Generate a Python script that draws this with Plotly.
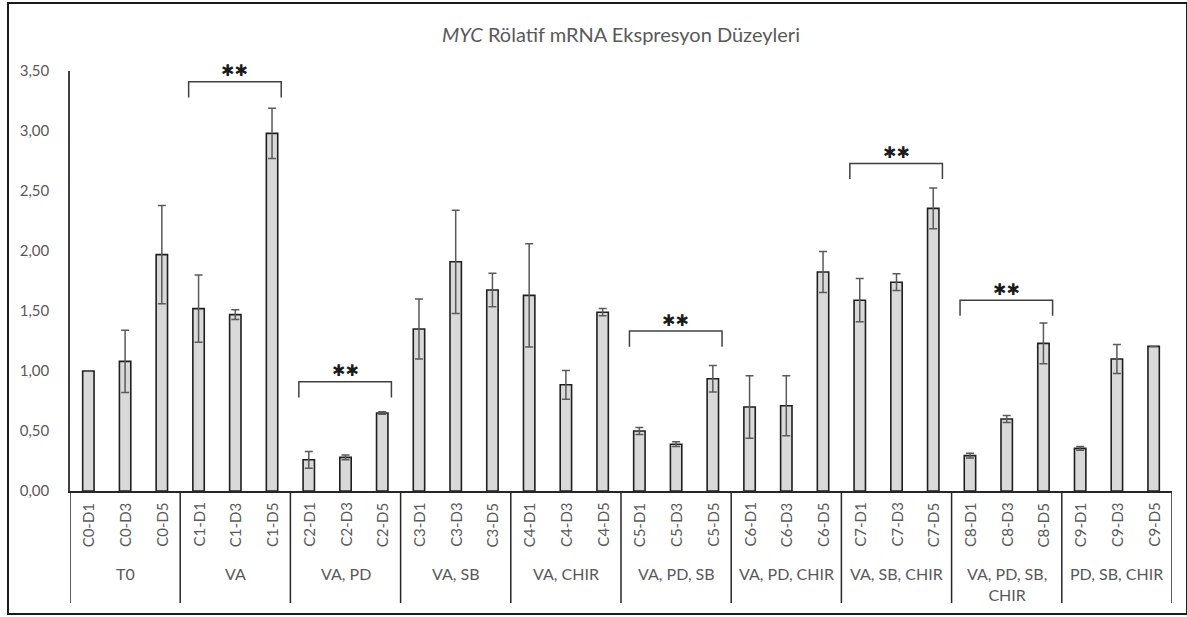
import plotly.graph_objects as go

# Sample codes, treatment groups and measured means / error values
doses = ["D1", "D3", "D5"]
conditions = ["C0", "C1", "C2", "C3", "C4", "C5", "C6", "C7", "C8", "C9"]
groups = ["T0", "VA", "VA, PD", "VA, SB", "VA, CHIR", "VA, PD, SB",
          "VA, PD, CHIR", "VA, SB, CHIR", "VA, PD, SB,<br>CHIR", "PD, SB, CHIR"]
categories = [f"{c}-{d}" for c in conditions for d in doses]

means = [1.00, 1.08, 1.97,
         1.52, 1.47, 2.98,
         0.26, 0.28, 0.65,
         1.35, 1.91, 1.675,
         1.63, 0.885, 1.49,
         0.50, 0.39, 0.935,
         0.70, 0.71, 1.825,
         1.59, 1.74, 2.355,
         0.295, 0.60, 1.23,
         0.355, 1.10, 1.205]
errors = [0.0, 0.26, 0.41,
          0.28, 0.04, 0.21,
          0.07, 0.02, 0.01,
          0.25, 0.43, 0.14,
          0.43, 0.12, 0.03,
          0.03, 0.02, 0.11,
          0.26, 0.25, 0.17,
          0.18, 0.07, 0.17,
          0.02, 0.03, 0.17,
          0.015, 0.12, 0.0]

# Significance brackets: group index and bracket level
sig_groups = [1, 2, 5, 7, 8]
sig_levels = [3.41, 0.91, 1.333, 2.73, 1.59]
sig_label = "✱✱"

W, H = 1187, 617
ML, MR, MT, MB = 70, 15, 71, 126
PW, PH = W - ML - MR, H - MT - MB

TEXT = "#595959"
FONT = "Lato"

x = list(range(len(categories)))

fig = go.Figure()
fig.add_trace(go.Bar(
    x=x, y=means, width=0.31,
    marker=dict(color="#D9D9D9", line=dict(color="#1f1f1f", width=1.6)),
    error_y=dict(type="data", array=errors, symmetric=True,
                 color="#5a5a5a", thickness=1.5, width=4),
    showlegend=False, hoverinfo="skip",
))

drop = 0.13
for g, lvl in zip(sig_groups, sig_levels):
    x0 = 3 * g - 0.27
    x1 = 3 * g + 2 + 0.25
    fig.add_trace(go.Scatter(
        x=[x0, x0, x1, x1], y=[lvl - drop, lvl, lvl, lvl - drop],
        mode="lines", line=dict(color="#404040", width=1.5),
        showlegend=False, hoverinfo="skip",
    ))
    fig.add_annotation(
        x=(x0 + x1) / 2, y=lvl, xref="x", yref="y",
        text=sig_label, showarrow=False, yanchor="middle", yshift=11,
        font=dict(family="DejaVu Sans", size=16, color="#1a1a1a"),
    )

def py(pix):
    """Pixel row -> paper y coordinate."""
    return (MT + PH - pix) / PH

def px(pix):
    return (pix - ML) / PW

shapes = []
# Group separators on the multi-level category axis
for k in range(len(groups) + 1):
    shapes.append(dict(type="line", xref="x", yref="paper",
                       x0=3 * k - 0.5, x1=3 * k - 0.5, y0=0, y1=py(603),
                       line=dict(color="#262626", width=1.5)))
# Outer chart border
shapes.append(dict(type="rect", xref="paper", yref="paper",
                   x0=px(8), x1=px(1187), y0=py(614), y1=py(3),
                   line=dict(color="#1a1a1a", width=2), layer="above"))

annotations = []
for i, c in enumerate(categories):
    annotations.append(dict(x=i, y=0, xref="x", yref="paper", text=c,
                            textangle=-90, showarrow=False,
                            yanchor="middle", yshift=-34,
                            font=dict(family=FONT, size=15, color=TEXT)))
for g, name in enumerate(groups):
    annotations.append(dict(x=3 * g + 1, y=0, xref="x", yref="paper", text=name,
                            showarrow=False, yanchor="top", yshift=-71,
                            font=dict(family=FONT, size=16, color=TEXT)))

for a in annotations:
    fig.add_annotation(**a)

fig.update_layout(
    width=W, height=H,
    margin=dict(l=ML, r=MR, t=MT, b=MB),
    paper_bgcolor="white", plot_bgcolor="white",
    separators=",.",
    shapes=shapes,
    title=dict(text="<i>MYC</i> Rölatif mRNA Ekspresyon Düzeyleri",
               x=0.5, xref="paper", y=1 - 35 / H, yanchor="middle",
               font=dict(family=FONT, size=20, color=TEXT)),
    xaxis=dict(range=[-0.5, len(categories) - 0.5], showticklabels=False,
               ticks="", showgrid=False, zeroline=False,
               showline=True, linecolor="#262626", linewidth=1.5),
    yaxis=dict(range=[0, 3.5], dtick=0.5, tickformat=".2f", showgrid=False,
               zeroline=False, showline=True, linecolor="#404040", linewidth=1.5,
               ticks="", ticklabelstandoff=16,
               tickfont=dict(family=FONT, size=15, color=TEXT)),
)

fig.write_html("out.html")
